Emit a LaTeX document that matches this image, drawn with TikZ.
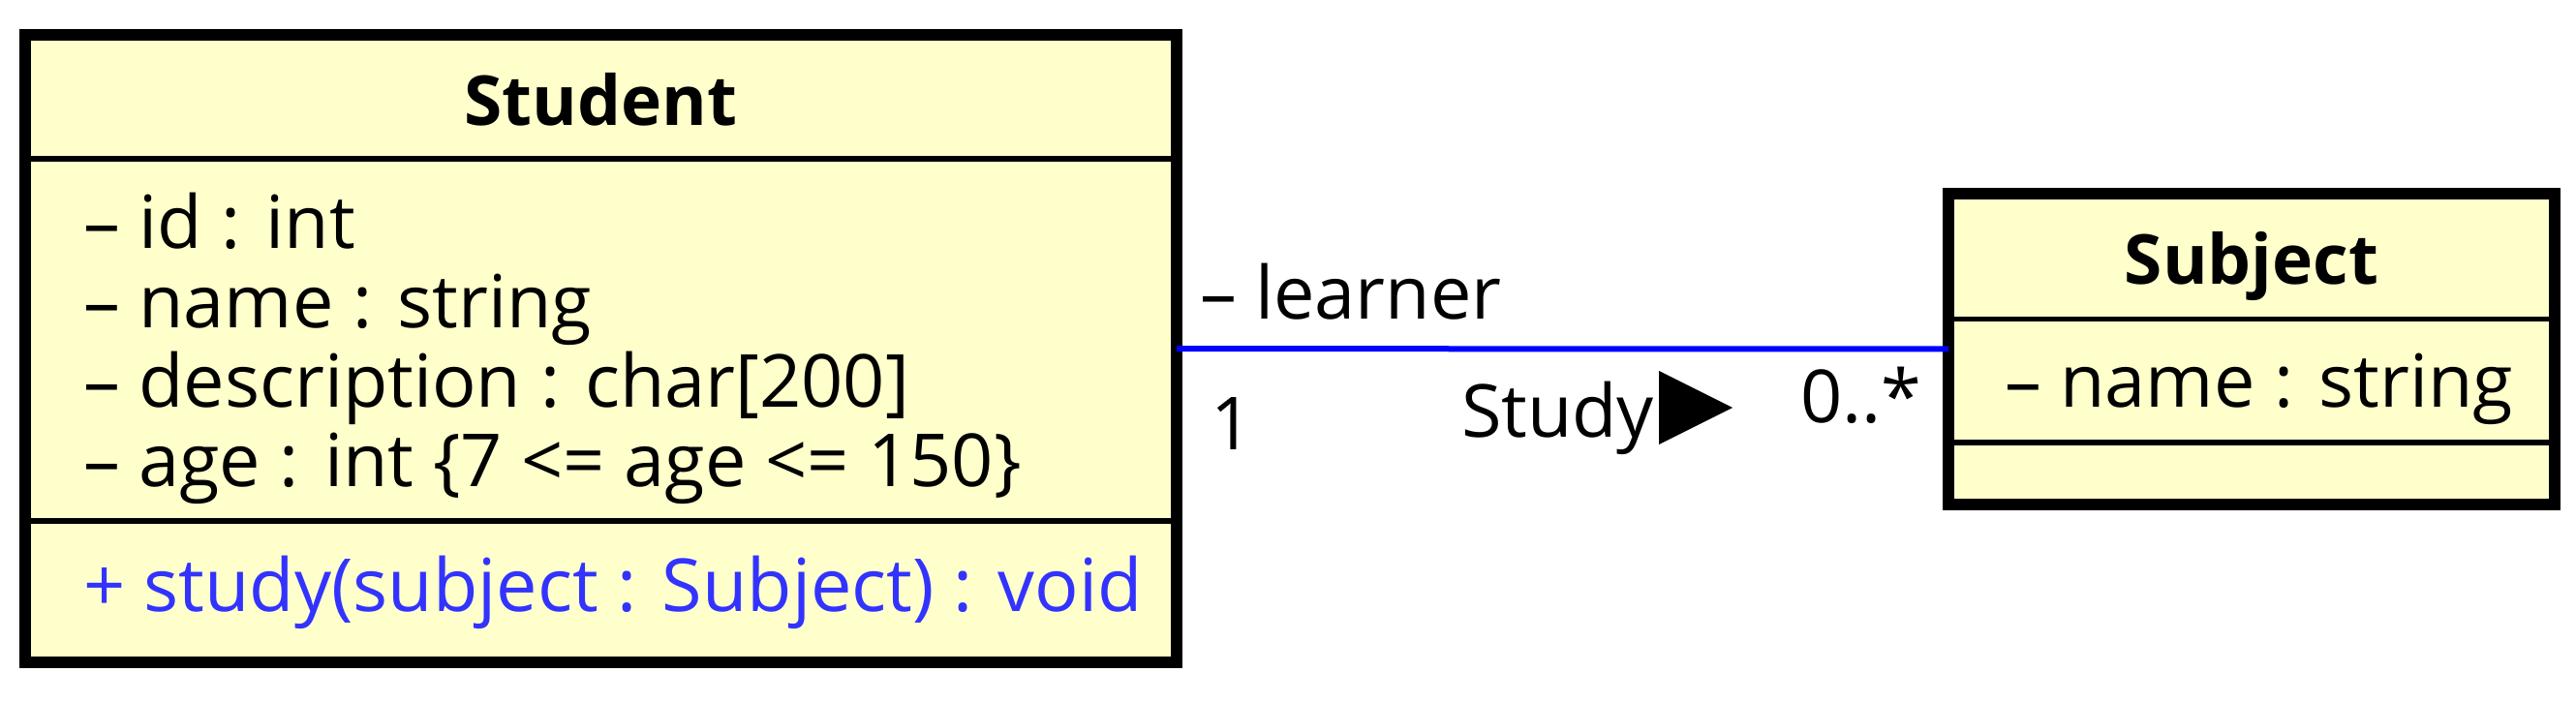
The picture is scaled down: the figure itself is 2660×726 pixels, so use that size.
\documentclass[tikz,border=0pt]{standalone}
\usepackage{fontspec}
\setmainfont{Open Sans}
\definecolor{classfill}{RGB}{255,255,204}
\definecolor{opblue}{RGB}{51,51,255}
\definecolor{assocblue}{RGB}{0,0,255}
\begin{document}
\begin{tikzpicture}[x=0.25pt,y=-0.25pt,
  classbox/.style={draw=black,fill=classfill,line width=3pt,inner sep=0pt,outer sep=0pt,rectangle},
  sepline/.style={draw=black,line width=1.4pt},
  txt/.style={inner sep=0pt,outer sep=0pt,anchor=base west,font=\fontsize{18.9pt}{23pt}\selectfont},
  ttl/.style={inner sep=0pt,outer sep=0pt,anchor=base,font=\fontsize{17.8pt}{22pt}\selectfont\bfseries},
  assoc/.style={draw=assocblue,line width=1.5pt}]
\useasboundingbox (0,0) rectangle (2660,726);
% class boxes
\node[classbox,minimum width=297.25pt,minimum height=162pt] (student) at (620.5,360) {};
\node[classbox,minimum width=156.5pt,minimum height=80.25pt] (subject) at (2325,360.5) {};
% compartments
\draw[sepline] (student.west |- 0,164) -- (student.east |- 0,164);
\draw[sepline] (student.west |- 0,538) -- (student.east |- 0,538);
\draw[sepline] (subject.west |- 0,329.5) -- (subject.east |- 0,329.5);
\draw[sepline] (subject.west |- 0,457) -- (subject.east |- 0,457);
% Student texts
\node[ttl] (stitle) at (620.5,130) {Student};
\node[txt] (sa1) at (86,257) {– id : int};
\node[txt] (sa2) at (86,339) {– name : string};
\node[txt] (sa3) at (86,421) {– description : char[200]};
\node[txt] (sa4) at (86,503) {– age : int \{7 <= age <= 150\}};
\node[txt,text=opblue] (sm1) at (86,632) {+ study(subject : Subject) : void};
% Subject texts
\node[ttl] (btitle) at (2325,294) {Subject};
\node[txt] (ba1) at (2070,421) {– name : string};
% association
\draw[assoc] (student) -- (subject);
\node[txt] (role) at (1239,330) {– learner};
\node[txt] (mult1) at (1250,465) {1};
\node[txt] (assocname) at (1509,452) {Study};
\fill[black] (1713,383) -- (1713,459) -- (1789,421) -- cycle;
\node[txt] (mult2) at (1859,437) {0..*};
\end{tikzpicture}
\end{document}
